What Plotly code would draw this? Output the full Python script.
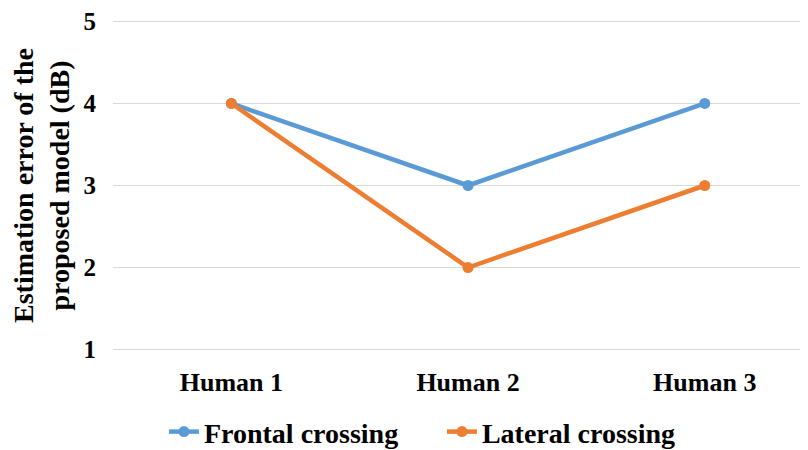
import plotly.graph_objects as go

categories = ["Human 1", "Human 2", "Human 3"]
frontal = [4, 3, 4]
lateral = [4, 2, 3]
series_names = ["Frontal crossing", "Lateral crossing"]
colors = ["#5B9BD5", "#ED7D31"]
y_ticks = [1, 2, 3, 4, 5]

font_family = "Liberation Serif, Times New Roman, serif"

fig = go.Figure()
for name, vals, col in zip(series_names, [frontal, lateral], colors):
    fig.add_trace(go.Scatter(
        x=list(range(len(categories))), y=vals, mode="lines+markers", name=f"<b>{name}</b>",
        line=dict(color=col, width=4.5), marker=dict(color=col, size=11),
    ))

fig.update_layout(
    width=808, height=450,
    margin=dict(l=105, r=0, t=11, b=106),
    paper_bgcolor="white", plot_bgcolor="white",
    font=dict(family=font_family, size=26, color="black"),
    xaxis=dict(
        tickmode="array", tickvals=list(range(len(categories))), ticktext=[f"<b>{c}</b>" for c in categories],
        range=[-0.5, 2.47], showgrid=False, zeroline=False, showline=False,
        tickfont=dict(size=26), ticks="", ticklabelstandoff=12, automargin=False,
    ),
    yaxis=dict(
        range=[0.97, 5.03], showgrid=True, gridcolor="#D9D9D9", gridwidth=1.2,
        zeroline=False, showline=False, tickfont=dict(size=25), ticks="",
        ticklabelstandoff=16, automargin=False, ticklabeloverflow="allow",
        tickvals=y_ticks, ticktext=[f"<b>{v}</b>" for v in y_ticks],
        title=dict(text="<b>Estimation error of the<br>proposed model (dB)</b>", font=dict(size=28), standoff=6),
    ),
    legend=dict(orientation="h", xref="container", yref="container",
                x=0.193, xanchor="left", y=0.058, yanchor="middle",
                font=dict(size=28), entrywidth=233, tracegroupgap=0),
    showlegend=True,
)

fig.write_html("out.html")
